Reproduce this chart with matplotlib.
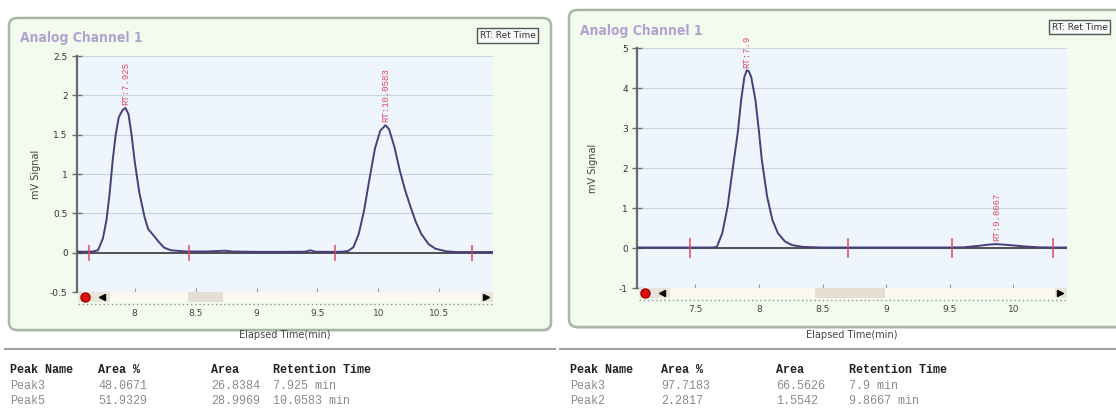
import numpy as np
import matplotlib.pyplot as plt
from matplotlib.patches import FancyBboxPatch, Rectangle
from matplotlib.lines import Line2D

W, H = 1116, 409

# ---- data ----
left_time = [7.52, 7.60, 7.66, 7.70, 7.74, 7.77, 7.795, 7.82, 7.845, 7.87, 7.90, 7.925,
             7.95, 7.975, 8.0, 8.038, 8.082, 8.111, 8.155, 8.199, 8.243, 8.30, 8.42,
             8.60, 8.74, 8.80, 9.0, 9.2, 9.40, 9.44, 9.48, 9.60, 9.70, 9.751, 9.795,
             9.839, 9.883, 9.927, 9.971, 10.015, 10.058, 10.087, 10.132, 10.176, 10.22,
             10.264, 10.307, 10.351, 10.41, 10.468, 10.556, 10.644, 10.80, 10.94]
left_signal = [0.012, 0.012, 0.015, 0.03, 0.18, 0.42, 0.75, 1.17, 1.5, 1.72, 1.81, 1.84,
               1.76, 1.5, 1.17, 0.77, 0.45, 0.30, 0.22, 0.135, 0.063, 0.03, 0.015,
               0.015, 0.025, 0.015, 0.01, 0.01, 0.012, 0.03, 0.012, 0.01, 0.012, 0.02, 0.07,
               0.24, 0.54, 0.94, 1.32, 1.55, 1.62, 1.57, 1.34, 1.04, 0.79,
               0.58, 0.39, 0.24, 0.11, 0.05, 0.017, 0.008, 0.008, 0.008]
left_rt = [7.925, 10.0583]
left_bounds = [7.63, 8.45, 9.64, 10.77]
left_xticks = [8, 8.5, 9, 9.5, 10, 10.5]
left_xlabels = ['8', '8.5', '9', '9.5', '10', '10.5']
left_yticks = [-0.5, 0, 0.5, 1, 1.5, 2, 2.5]
left_ylabels = ['-0.5', '0', '0.5', '1', '1.5', '2', '2.5']

right_time = [7.04, 7.30, 7.50, 7.64, 7.669, 7.711, 7.753, 7.796, 7.833, 7.859, 7.885,
              7.904, 7.92, 7.938, 7.972, 8.0, 8.021, 8.063, 8.105, 8.148, 8.204, 8.26,
              8.345, 8.485, 8.70, 9.00, 9.30, 9.50, 9.611, 9.724, 9.80, 9.865, 9.93,
              10.006, 10.118, 10.20, 10.30, 10.42]
right_signal = [0.02, 0.02, 0.02, 0.02, 0.04, 0.38, 1.05, 2.06, 2.9, 3.7, 4.29,
                4.45, 4.42, 4.29, 3.7, 2.9, 2.23, 1.30, 0.71, 0.38, 0.17, 0.08,
                0.035, 0.02, 0.02, 0.02, 0.02, 0.02, 0.025, 0.06, 0.09, 0.105, 0.09,
                0.07, 0.04, 0.025, 0.02, 0.02]
right_rt = [7.9, 9.8667]
right_bounds = [7.455, 8.70, 9.52, 10.31]
right_xticks = [7.5, 8, 8.5, 9, 9.5, 10]
right_xlabels = ['7.5', '8', '8.5', '9', '9.5', '10']
right_yticks = [-1, 0, 1, 2, 3, 4, 5]
right_ylabels = ['-1', '0', '1', '2', '3', '4', '5']

# peak tables
left_names = ['Peak3', 'Peak5']
left_pct = ['48.0671', '51.9329']
left_area = ['26.8384', '28.9969']
right_names = ['Peak3', 'Peak2']
right_pct = ['97.7183', '2.2817']
right_area = ['66.5626', '1.5542']

TRACE = '#4a3d7c'
RED = '#de4a60'
BG = '#eef5fd'
GREEN = '#f3fbee'


def fx(px):
    return px / W


def fy(py):
    return 1 - py / H


fig = plt.figure(figsize=(W / 100, H / 100), dpi=100)
fig.patch.set_facecolor('white')


def green_box(x0, y0, x1, y1):
    # rounded panel frame, drawn in inches so the corners stay round
    sh = FancyBboxPatch((x0 / 100 + 0.01, (H - y1) / 100 - 0.015), (x1 - x0) / 100, (y1 - y0) / 100,
                        boxstyle='round,pad=0,rounding_size=0.08', transform=fig.dpi_scale_trans,
                        fc='#c9d0c4', ec='none', zorder=-3)
    box = FancyBboxPatch((x0 / 100, (H - y1) / 100), (x1 - x0) / 100, (y1 - y0) / 100,
                         boxstyle='round,pad=0,rounding_size=0.08', transform=fig.dpi_scale_trans,
                         fc=GREEN, ec='#a9b8a1', lw=1.8, zorder=-2)
    fig.add_artist(sh)
    fig.add_artist(box)


def panel(frame, area_px, xlim, ylim, time, signal, rts, bounds, xticks, xlabels,
          yticks, ylabels, title_y, rtbox_xy, thumb_px, mark_ms, ylab_x):
    green_box(*frame)
    l, t, r, b = area_px
    ax = fig.add_axes([fx(l), fy(b), fx(r) - fx(l), fy(t) - fy(b)])
    ax.set_facecolor(BG)
    ax.set_xlim(*xlim)
    ax.set_ylim(*ylim)
    ax.set_yticks(yticks, labels=ylabels)
    ax.set_xticks(xticks, labels=xlabels)
    ax.grid(axis='y', color='#c8d2e2', lw=0.8)
    ax.set_axisbelow(True)
    for s in ['top', 'right', 'bottom']:
        ax.spines[s].set_visible(False)
    ax.spines['left'].set_color('#6a6a6a')
    ax.spines['left'].set_linewidth(1.6)
    ax.tick_params(axis='y', direction='inout', length=7, width=1, color='#6a6a6a',
                   labelsize=6.5, labelcolor='#333333', pad=3)
    ax.tick_params(axis='x', direction='in', length=3, width=0.8, color='#999999',
                   labelsize=6.5, labelcolor='#444444', pad=12)

    ax.axhline(0, color='#505050', lw=1.4, zorder=2)
    ax.plot(time, signal, color=TRACE, lw=1.4, zorder=3)
    ax.plot(bounds, np.zeros(len(bounds)), ls='none', marker='|', ms=mark_ms, mew=1.1,
            color=RED, zorder=4)
    for rt in rts:
        sel = (np.array(time) > rt - 0.08) & (np.array(time) < rt + 0.08)
        top = np.array(signal)[sel].max()
        ax.annotate(f'RT:{rt:g}', (rt, top), xytext=(0, 2), textcoords='offset points',
                    rotation=90, ha='center', va='bottom', family='Liberation Mono',
                    fontsize=6.5, color=RED)

    ax.set_ylabel('mV Signal', fontsize=7, color='#444444')
    ax.yaxis.set_label_coords(-(l - ylab_x) / (r - l), 0.5)
    ax.set_xlabel('Elapsed Time(min)', fontsize=7, color='#444444')
    ax.xaxis.set_label_coords(0.5, -(330 - b) / (b - t))

    # scroll bar under the plot
    def axx(px):
        return (px - l) / (r - l)

    def axy(py):
        return (b - py) / (b - t)

    y0, y1 = b, b + 10
    kw = dict(transform=ax.transAxes, clip_on=False)
    ax.add_patch(Rectangle((axx(l + 1.5), axy(y1)), axx(r) - axx(l + 1.5), axy(y0) - axy(y1),
                           fc='#fbf8f1', ec='none', **kw))
    ax.add_patch(Rectangle((axx(l + 1.5), axy(y1)), axx(l + 33) - axx(l + 1.5), axy(y0) - axy(y1),
                           fc='#e8e4d9', ec='none', **kw))
    ax.add_patch(Rectangle((axx(r - 12), axy(y1)), axx(r) - axx(r - 12), axy(y0) - axy(y1),
                           fc='#e8e4d9', ec='none', **kw))
    ax.add_patch(Rectangle((axx(thumb_px[0]), axy(y1)), axx(thumb_px[1]) - axx(thumb_px[0]),
                           axy(y0) - axy(y1), fc='#e4dfd2', ec='none', **kw))
    ax.plot([axx(l + 8)], [axy(y0 + 5)], marker='o', ms=6.5, color='#dd1010', mec='#a00000', **kw)
    ax.plot([axx(l + 25)], [axy(y0 + 5)], marker='<', ms=4.5, color='black', **kw)
    ax.plot([axx(r - 7)], [axy(y0 + 5)], marker='>', ms=4.5, color='black', **kw)
    ax.plot([axx(l + 1.5), 1], [axy(y1 + 1.5)] * 2, ls=(0, (1, 2)), lw=1, color='#909090', **kw)

    fig.text(fx(frame[0] + 11), fy(title_y), 'Analog Channel 1', ha='left', va='center',
             fontsize=10, fontweight='bold', fontstretch='condensed',
             family='DejaVu Sans', color='#b3a2cf')
    fig.text(fx(rtbox_xy[0]), fy(rtbox_xy[1]), 'RT: Ret Time', ha='center', va='center',
             fontsize=6.5, color='#333333',
             bbox=dict(boxstyle='square,pad=0.3', fc='#f9f9f9', ec='#555555', lw=1))
    return ax


panel((9, 18, 551, 330), (76.7, 56, 493, 292), (7.525, 10.94), (-0.5, 2.5),
      left_time, left_signal, left_rt, left_bounds, left_xticks, left_xlabels,
      left_yticks, left_ylabels, 38, (507.5, 35.5), (188, 223), 12, 41)
panel((569, 10, 1125, 327), (637, 48.3, 1066.7, 288.3), (7.04, 10.42), (-1, 5),
      right_time, right_signal, right_rt, right_bounds, right_xticks, right_xlabels,
      right_yticks, right_ylabels, 31, (1079.5, 27), (815, 885), 15, 598)

# separators and peak tables
fig.add_artist(Line2D([fx(5), fx(555)], [fy(349)] * 2, color='#a0a0a0', lw=1.5))
fig.add_artist(Line2D([fx(560), fx(1116)], [fy(349)] * 2, color='#a0a0a0', lw=1.5))


def table(cols, names, pct, area, rts):
    mono = 'Liberation Mono'
    for x, head in zip(cols, ['Peak Name', 'Area %', 'Area', 'Retention Time']):
        fig.text(fx(x), fy(370), head, ha='left', va='center', family=mono,
                 fontsize=8.5, fontweight='bold', color='#222222')
    for i in range(len(names)):
        row = [names[i], pct[i], area[i], f'{rts[i]:g} min']
        for x, s in zip(cols, row):
            fig.text(fx(x), fy(386 + 15 * i), s, ha='left', va='center', family=mono,
                     fontsize=8.5, color='#8a8a8a')


table([10, 98, 211, 273], left_names, left_pct, left_area, left_rt)
table([570, 661, 776, 849], right_names, right_pct, right_area, right_rt)

fig.savefig('out.png', dpi=100)
